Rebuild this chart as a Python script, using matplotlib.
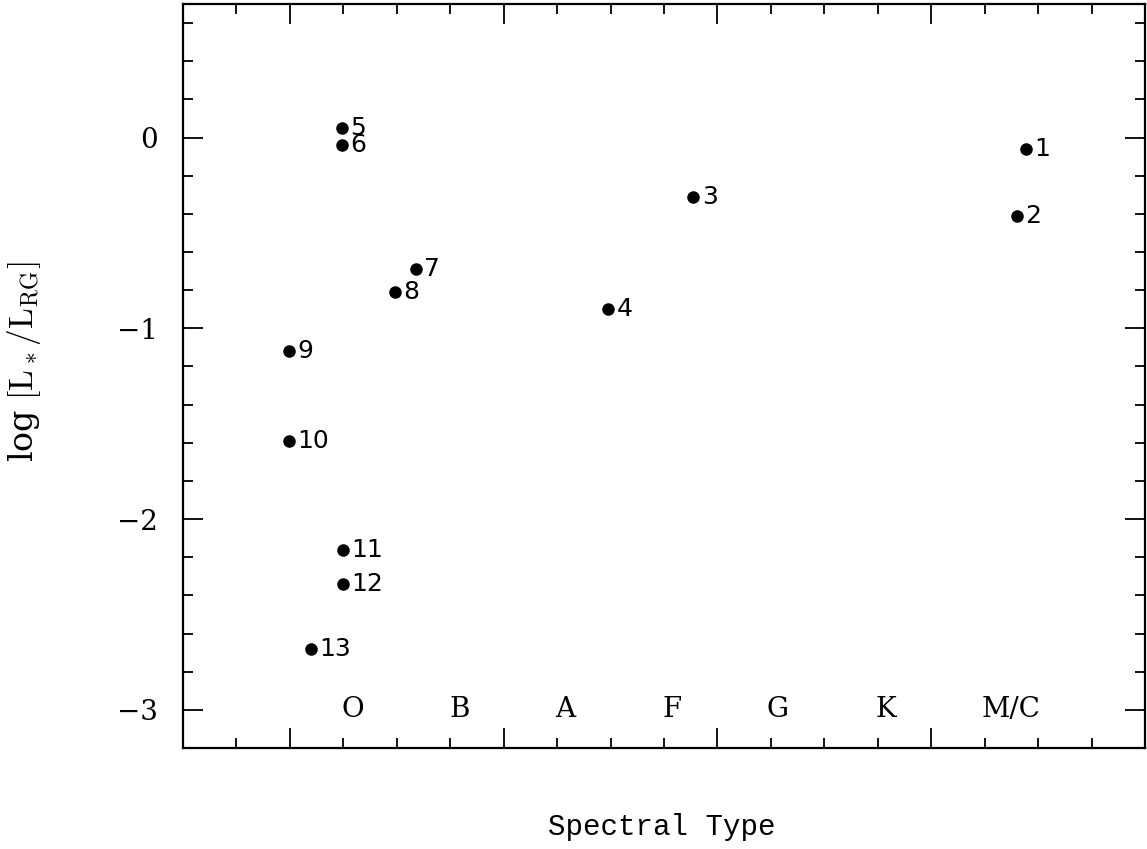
import matplotlib
matplotlib.use("Agg")
import matplotlib.pyplot as plt
from matplotlib.ticker import MultipleLocator

plt.rcParams['mathtext.fontset'] = 'cm'

# star number, position along the spectral-type axis, log luminosity ratio
ids = ["1", "2", "3", "4", "5", "6", "7", "8", "9", "10", "11", "12", "13"]
spec_x = [15.77, 15.60, 9.55, 7.96, 2.98, 2.98, 4.36, 3.97, 1.99, 1.99, 3.00, 3.00, 2.40]
log_ratio = [-0.06, -0.41, -0.31, -0.90, 0.05, -0.04, -0.69, -0.81, -1.12, -1.59, -2.16, -2.34, -2.68]

spec_labels = ["O", "B", "A", "F", "G", "K", "M/C"]
spec_label_x = [3.18, 5.18, 7.15, 9.15, 11.13, 13.15, 15.5]

fig = plt.figure(figsize=(11.47, 8.49), dpi=100)
ax = fig.add_axes([183/1147, 1-748/849, (1145-183)/1147, (748-4)/849])

ax.scatter(spec_x, log_ratio, s=64, color='black', zorder=3)
for name, x, y in zip(ids, spec_x, log_ratio):
    ax.annotate(name, (x, y), xytext=(6, 0), textcoords='offset points',
                va='center', ha='left', fontsize=18, family='DejaVu Sans')

for lab, x in zip(spec_labels, spec_label_x):
    ax.text(x, -3.0, lab, ha='center', va='center', fontsize=20, family='DejaVu Serif')

ax.set_xlim(0, 18)
ax.set_ylim(-3.2, 0.7)
ax.xaxis.set_major_locator(MultipleLocator(4, offset=2))
ax.xaxis.set_minor_locator(MultipleLocator(1))
ax.yaxis.set_major_locator(MultipleLocator(1))
ax.yaxis.set_minor_locator(MultipleLocator(0.2))
ax.set_xticklabels([])
ax.set_yticks([0, -1, -2, -3])
ax.set_yticklabels(["0", "\u22121", "\u22122", "\u22123"], family='DejaVu Serif', fontsize=20)

ax.tick_params(which='both', direction='in', top=True, right=True, width=1.3, color='black')
ax.tick_params(which='major', length=14.5, pad=18)
ax.tick_params(which='minor', length=7.5)
ax.tick_params(axis='x', which='major', labelbottom=False)
for sp in ax.spines.values():
    sp.set_linewidth(1.6)

fig.text(24/1147, 1-362/849, r'log $[\mathrm{L_*/L_{RG}}]$', rotation=90,
         ha='center', va='center', fontsize=24, family='DejaVu Serif')
fig.text(662/1147, 1-827/849, "Spectral Type", ha='center', va='center',
         fontsize=21, family='Liberation Mono')

fig.savefig("out.png", dpi=100)
